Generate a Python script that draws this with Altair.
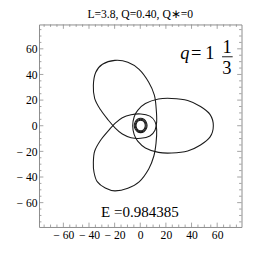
import altair as alt
import pandas as pd

# ---- curve points (data units) ----
right_x = [57.0, 54.5, 47.0, 37.0, 24.5, 14.2, 4.0, -2.0, -4.8, -5.9, -4.8, -2.0, 4.0, 14.2, 24.5, 37.0, 47.0, 54.5]
right_y = [0.0, 8.7, 15.0, 19.7, 21.3, 20.8, 17.3, 12.0, 6.8, 0.0, -6.8, -12.0, -17.3, -20.8, -21.3, -19.7, -15.0, -8.7]

upper_x = [-19.8, -29.5, -34.8, -36.6, -35.6, -31.1, -25.0, -19.5, -14.0, -7.2, 0.4, 7.5, 11.5, 12.8, 12.4, 11.0, 6.6, -0.9, -9.7]
upper_y = [51.0, 48.0, 41.5, 31.5, 21.4, 12.6, 4.5, -1.8, -6.5, -9.3, -9.8, -8.0, -3.5, 3.0, 13.5, 23.9, 34.0, 44.0, 49.6]

lower_x = [-19.8, -27.3, -33.6, -36.1, -36.6, -35.6, -31.1, -25.0, -19.5, -14.0, -7.2, 0.4, 7.5, 11.5, 12.8, 12.3, 10.6, 6.6, -0.9, -9.7]
lower_y = [-50.8, -48.6, -43.6, -36.2, -28.7, -19.9, -11.5, -4.0, 2.0, 6.3, 8.6, 9.2, 7.5, 3.2, -3.0, -13.6, -23.6, -33.7, -43.8, -48.8]

ringa_x = [5.3, 4.6, 2.8, 0.3, -2.2, -4.0, -4.7, -4.0, -2.2, 0.3, 2.8, 4.6]
ringa_y = [0.2, 3.0, 5.05, 5.8, 5.05, 3.0, 0.2, -2.6, -4.65, -5.4, -4.65, -2.6]

ringc_x = [4.6, 4.0, 2.5, 0.4, -1.8, -3.3, -3.9, -3.3, -1.8, 0.4, 2.5, 4.0]
ringc_y = [0.1, 2.6, 4.4, 5.1, 4.4, 2.6, 0.1, -2.3, -4.1, -4.8, -4.1, -2.3]

ringb_x = [3.9, 3.4, 2.1, 0.3, -1.5, -2.8, -3.3, -2.8, -1.5, 0.3, 2.1, 3.4]
ringb_y = [0.2, 2.3, 3.8, 4.4, 3.8, 2.3, 0.2, -1.9, -3.4, -4.0, -3.4, -1.9]

# ---- axis ticks ----
major_ticks = [-60, -40, -20, 0, 20, 40, 60]
minor_ticks = [-75, -70, -65, -55, -50, -45, -35, -30, -25, -15, -10, -5,
               5, 10, 15, 25, 30, 35, 45, 50, 55, 65, 70, 75]

# ---- texts ----
title_text = "L=3.8, Q=0.40, Q\u2217=0"
energy_text = "E =0.984385"

W, H = 209, 209
DOM = [-79, 79]
FRAME = "#8a8a8a"
SERIF = "Liberation Serif"

rows = []
for part, xs, ys in [("right", right_x, right_y), ("upper", upper_x, upper_y),
                     ("lower", lower_x, lower_y), ("ringa", ringa_x, ringa_y),
                     ("ringc", ringc_x, ringc_y), ("ringb", ringb_x, ringb_y)]:
    for i, (a, b) in enumerate(zip(xs, ys)):
        rows.append({"part": part, "i": i, "x": a, "y": b})
curve = pd.DataFrame(rows)

sx = alt.Scale(domain=DOM, nice=False, zero=False)
sy = alt.Scale(domain=DOM, nice=False, zero=False)

lab_expr = "datum.value < 0 ? '\u2212 ' + format(-datum.value, 'd') : format(datum.value, 'd')"

xaxis = alt.Axis(values=major_ticks, labelExpr=lab_expr, ticks=False, domain=False, grid=False,
                 labelFont=SERIF, labelFontSize=12, labelColor="#000", labelPadding=3, title=None)
yaxis = alt.Axis(values=major_ticks, labelExpr=lab_expr, ticks=False, domain=False, grid=False,
                 labelFont=SERIF, labelFontSize=12, labelColor="#000", labelPadding=2, title=None)


def X(field):
    return alt.X(field, scale=sx, axis=xaxis)


def Y(field):
    return alt.Y(field, scale=sy, axis=yaxis)


lines = alt.Chart(curve).mark_line(color="#1a1a1a", strokeWidth=1.1, interpolate="cardinal-closed").encode(
    x=X("x:Q"), y=Y("y:Q"), detail="part:N", order="i:Q",
)

maj = pd.DataFrame({"v": major_ticks})
mnr = pd.DataFrame({"v": minor_ticks})


def hticks(df, ln):
    b = alt.Chart(df).mark_rule(color=FRAME, strokeWidth=0.8).encode(
        x=X("v:Q"), y=alt.value(H), y2=alt.value(H - ln))
    t = alt.Chart(df).mark_rule(color=FRAME, strokeWidth=0.8).encode(
        x=X("v:Q"), y=alt.value(0), y2=alt.value(ln))
    return [b, t]


def vticks(df, ln):
    l = alt.Chart(df).mark_rule(color=FRAME, strokeWidth=0.8).encode(
        y=Y("v:Q"), x=alt.value(0), x2=alt.value(ln))
    r = alt.Chart(df).mark_rule(color=FRAME, strokeWidth=0.8).encode(
        y=Y("v:Q"), x=alt.value(W), x2=alt.value(W - ln))
    return [l, r]


tick_layers = hticks(maj, 4.5) + hticks(mnr, 2.5) + vticks(maj, 4.5) + vticks(mnr, 2.5)


def txt(x, y, t, size, align="left", style="normal"):
    df = pd.DataFrame({"x": [x], "y": [y], "t": [t]})
    return alt.Chart(df).mark_text(font=SERIF, fontSize=size, align=align, baseline="alphabetic",
                                   fontStyle=style, color="#000").encode(
        x=X("x:Q"), y=Y("y:Q"), text="t:N")


q_layer = txt(31.2, 51.8, "q", 19, style="italic")
eq_layer = txt(39.6, 51.8, "=", 19)
one_layer = txt(50.7, 51.8, "1", 19)
num_layer = txt(67.7, 56.8, "1", 19, align="center")
den_layer = txt(67.6, 40.5, "3", 19, align="center")
bar_df = pd.DataFrame({"x": [63.8], "x2": [72.1], "y": [53.8]})
bar_layer = alt.Chart(bar_df).mark_rule(color="#000", strokeWidth=0.9).encode(
    x=X("x:Q"), x2="x2:Q", y=Y("y:Q"))
e_layer = txt(-30.6, -71.5, energy_text, 15.5)

chart = alt.layer(lines, *tick_layers, q_layer, eq_layer, one_layer, num_layer, den_layer,
                  bar_layer, e_layer).properties(
    width=W, height=H,
    title=alt.Title(title_text, font=SERIF, fontSize=12, fontWeight="normal", color="#000",
                    anchor="middle", offset=3),
    autosize=alt.AutoSizeParams(type="none"),
    padding={"left": 32, "top": 13, "right": 17, "bottom": 28},
).configure_view(stroke=FRAME, strokeWidth=1).configure_axis(
    labelFont=SERIF, labelFontSize=12, labelColor="#000"
).configure_title(font=SERIF, fontSize=12, fontWeight="normal", color="#000")

chart.save("out.html", embed_options={"renderer": "svg", "actions": False})
